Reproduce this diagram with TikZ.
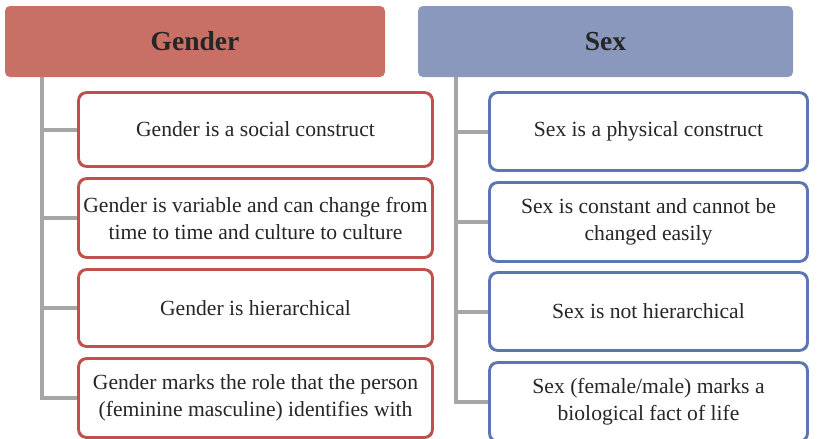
\documentclass[tikz,border=0pt]{standalone}
\usepackage{fontspec}
\setmainfont{Liberation Serif}
\definecolor{gendfill}{HTML}{C87066}
\definecolor{gendline}{HTML}{C0504D}
\definecolor{sexfill}{HTML}{8A98BE}
\definecolor{sexline}{HTML}{5B76B0}
\definecolor{trunkgray}{HTML}{A6A6A8}
\tikzset{
  head/.style={rounded corners=5pt,inner sep=0pt,minimum height=71pt,
    font=\fontsize{27.5}{32}\selectfont\bfseries,text=black!85},
  item/.style={draw,line width=1.8pt,fill=white,rounded corners=8pt,inner sep=0pt,
    align=center,font=\fontsize{21.6}{27}\selectfont,text=black!85},
  trunk/.style={draw=trunkgray,line width=4pt}
}
\begin{document}
\begin{tikzpicture}[x=1pt,y=-1pt]
      \useasboundingbox[fill=white] (0,0) rectangle (817,439);
      % headers
      \node[head,fill=gendfill,minimum width=380pt] (gender) at (195,41.5) {Gender};
      \node[head,fill=sexfill,minimum width=375pt] (sex) at (605.5,41.5) {Sex};
      % gender column
      \node[item,draw=gendline,minimum width=353pt,minimum height=73pt] (g1) at (255.5,129.5)
        {Gender is a social construct};
      \node[item,draw=gendline,minimum width=353pt,minimum height=78pt] (g2) at (255.5,218)
        {Gender is variable and can change from\\time to time and culture to culture};
      \node[item,draw=gendline,minimum width=353pt,minimum height=76pt] (g3) at (255.5,308)
        {Gender is hierarchical};
      \node[item,draw=gendline,minimum width=353pt,minimum height=78pt] (g4) at (255.5,398)
        {Gender marks the role that the person\\(feminine masculine) identifies with};
      % sex column
      \node[item,draw=sexline,minimum width=317pt,minimum height=77pt] (s1) at (648.5,131.5)
        {Sex is a physical construct};
      \node[item,draw=sexline,minimum width=317pt,minimum height=78pt] (s2) at (648.5,222)
        {Sex is constant and cannot be\\changed easily};
      \node[item,draw=sexline,minimum width=317pt,minimum height=77pt] (s3) at (648.5,311.5)
        {Sex is not hierarchical};
      \node[item,draw=sexline,minimum width=317pt,minimum height=78pt] (s4) at (648.5,402)
        {Sex (female/male) marks a\\biological fact of life};
      % trunks and branches
      \coordinate (gtop) at (42,77);
      \coordinate (stop) at (456,77);
      \begin{scope}[on background layer/.try]
      \draw[trunk] (gtop) -- (gtop |- g4.west) -- (g4.west);
      \draw[trunk] (stop) -- (stop |- s4.west) -- (s4.west);
      \foreach \i in {1,2,3}
      \draw[trunk] (gtop |- g\i.west) -- (g\i.west) (stop |- s\i.west) -- (s\i.west);
      \end{scope}
      % redraw boxes over the branch ends
      \foreach \n in {g1,g2,g3,g4}
      \draw[gendline,line width=1.8pt,rounded corners=8pt] (\n.north west) rectangle (\n.south east);
      \foreach \n in {s1,s2,s3,s4}
      \draw[sexline,line width=1.8pt,rounded corners=8pt] (\n.north west) rectangle (\n.south east);
\end{tikzpicture}
\end{document}
